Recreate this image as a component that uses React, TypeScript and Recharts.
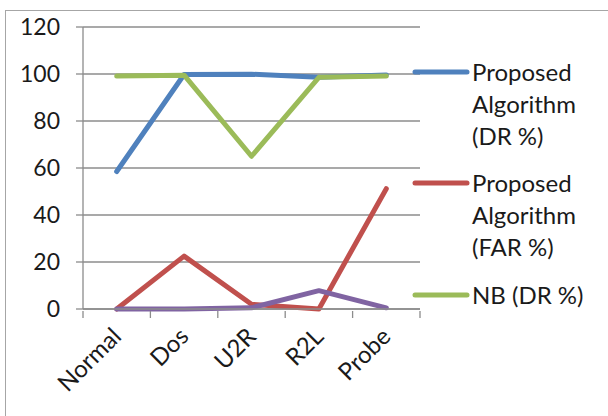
import React from "react";
import { LineChart, Line, XAxis, YAxis, CartesianGrid } from "recharts";

const categories = ["Normal", "Dos", "U2R", "R2L", "Probe"];
const proposedDR = [58.5, 99.8, 99.9, 98.6, 99.6];
const proposedFAR = [0, 22.5, 2, 0, 51.2];
const nbDR = [99.1, 99.5, 65, 98.6, 99.1];
const nbFAR = [0, 0, 0.5, 7.8, 0.5];
const yTicks = [0, 20, 40, 60, 80, 100, 120];

const seriesNames = [
  "Proposed Algorithm (DR %)",
  "Proposed Algorithm (FAR %)",
  "NB (DR %)",
  "NB (FAR %)",
];
const colors = ["#4F81BD", "#C0504D", "#9BBB59", "#8064A2"];
const legendLines = [
  ["Proposed", "Algorithm", "(DR %)"],
  ["Proposed", "Algorithm", "(FAR %)"],
  ["NB (DR %)"],
];

const data = categories.map((name, i) => ({
  name,
  s0: proposedDR[i],
  s1: proposedFAR[i],
  s2: nbDR[i],
  s3: nbFAR[i],
}));

const FONT = "Lato, 'Liberation Sans', sans-serif";
const GRID = "#8c8c8c";

const CategoryTick = (props: any) => {
  const { x, y, payload, index, visibleTicksCount } = props;
  const half = payload && payload.offset ? payload.offset : 33.7;
  const last = index === visibleTicksCount - 1;
  const tx = x + 6;
  const ty = y + 21;
  return (
    <g>
      <line x1={x - half} y1={y - 6} x2={x - half} y2={y + 1} stroke={GRID} strokeWidth={1.3} />
      {last && (
        <line x1={x + half} y1={y - 6} x2={x + half} y2={y + 1} stroke={GRID} strokeWidth={1.3} />
      )}
      <text
        x={tx}
        y={ty}
        textAnchor="end"
        transform={`rotate(-45 ${tx} ${ty})`}
        fontSize={24}
        fontFamily={FONT}
        fill="#1a1a1a"
      >
        {payload.value}
      </text>
    </g>
  );
};

export default function App() {
  return (
    <div
      style={{
        position: "absolute",
        left: 0,
        top: 0,
        width: 608,
        height: 416,
        overflow: "hidden",
        background: "#fff",
        fontFamily: FONT,
      }}
    >
      <div
        style={{
          position: "absolute",
          left: 5,
          top: 10,
          width: 640,
          height: 450,
          border: "1.5px solid #a6a6a6",
        }}
      />
      <div style={{ position: "absolute", left: 0, top: 0 }}>
        <LineChart
          width={608}
          height={416}
          data={data}
          margin={{ top: 27, right: 188, bottom: 7, left: 0 }}
        >
          <CartesianGrid vertical={false} stroke={GRID} strokeWidth={1.3} />
          <XAxis
            dataKey="name"
            scale="band"
            height={100}
            axisLine={{ stroke: GRID, strokeWidth: 1.3 }}
            tickLine={false}
            tickSize={6}
            tick={<CategoryTick />}
            interval={0}
          />
          <YAxis
            width={83}
            domain={[0, 120]}
            ticks={yTicks}
            axisLine={{ stroke: GRID, strokeWidth: 1.3 }}
            tickLine={{ stroke: GRID, strokeWidth: 1.3 }}
            tickSize={7}
            tickMargin={16}
            tick={{ fontSize: 23, fill: "#1a1a1a", fontFamily: FONT }}
          />
          {seriesNames.map((n, i) => (
            <Line
              key={n}
              name={n}
              dataKey={`s${i}`}
              stroke={colors[i]}
              strokeWidth={5}
              strokeLinecap="round"
              strokeLinejoin="round"
              dot={false}
              activeDot={false}
              isAnimationActive={false}
            />
          ))}
        </LineChart>
      </div>
      <div style={{ position: "absolute", left: 412, top: 56 }}>
        {legendLines.map((lines, i) => (
          <div key={i} style={{ display: "flex", alignItems: "flex-start", marginBottom: i === 0 ? 15 : 16 }}>
            <svg width={58} height={32} style={{ flex: "none" }}>
              <line x1={3} y1={16} x2={55} y2={16} stroke={colors[i]} strokeWidth={5} strokeLinecap="round" />
            </svg>
            <div style={{ fontSize: 24, lineHeight: "32px", color: "#1a1a1a", marginLeft: 2 }}>
              {lines.map((t) => (
                <div key={t} style={{ whiteSpace: "nowrap" }}>{t}</div>
              ))}
            </div>
          </div>
        ))}
      </div>
    </div>
  );
}
